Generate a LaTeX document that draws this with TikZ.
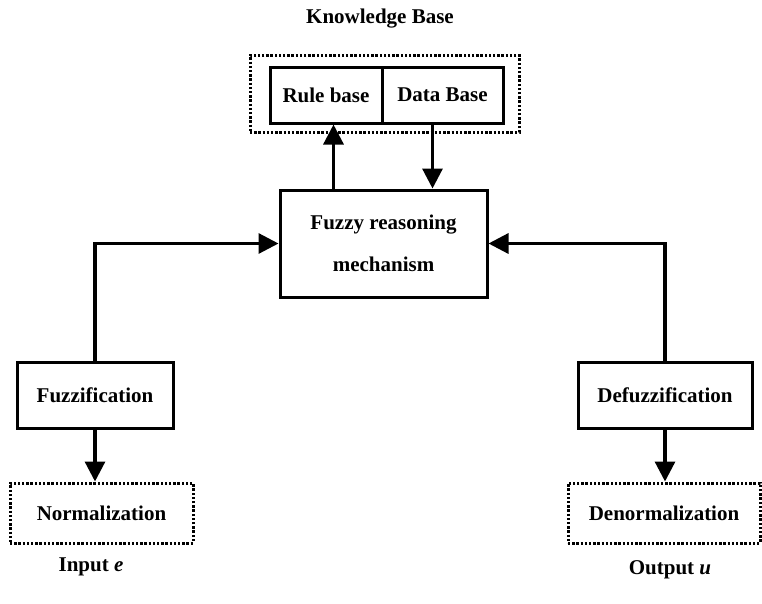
\documentclass[tikz,border=0pt]{standalone}
\usepackage{fontspec}
\setmainfont{Liberation Serif}
\usetikzlibrary{positioning, calc, arrows.meta}

\begin{document}
\begin{tikzpicture}[
      x=1pt, y=-1pt,
      font=\bfseries\fontsize{21}{42}\selectfont,
      block/.style={rectangle, draw=black, line width=3pt, inner sep=0pt, align=center},
      dotblock/.style={rectangle, draw=black, line width=3pt, dash pattern=on 2.4pt off 1.8pt, inner sep=0pt, align=center},
      flow/.style={-{Triangle[length=20pt, width=20pt]}, line width=3.2pt},
      caption/.style={inner sep=0pt}
    ]
      \useasboundingbox (0,0) rectangle (762,603);

      % Knowledge base
      \node[caption] (kbtitle) at (380,19) {Knowledge Base};
      \node[dotblock, minimum width=269pt, minimum height=77pt] (kb) at (384.5,93.5) {};
      \node[block, minimum width=112pt, minimum height=56pt] (rule) at (326,95) {Rule base};
      \node[block, minimum width=121pt, minimum height=56pt] (data) at (442.5,95) {Data Base};

      % Inference
      \node[block, minimum width=207pt, minimum height=107pt] (fuzzy) at (383.5,243.5) {Fuzzy reasoning\\mechanism};

      % Input side
      \node[block, minimum width=156pt, minimum height=66pt] (fuzzif) at (95,395) {Fuzzification};
      \node[dotblock, minimum width=183pt, minimum height=60pt] (norm) at (101.5,513) {Normalization};
      \node[caption] (input) at (91,567) {Input \textit{e}};

      % Output side
      \node[block, minimum width=174pt, minimum height=66pt] (defuzz) at (665,395) {Defuzzification};
      \node[dotblock, minimum width=192pt, minimum height=60pt] (denorm) at (664,513) {Denormalization};
      \node[caption] (output) at (670,570) {Output \textit{u}};

      % Connections
      \draw[flow] ([xshift=55pt]fuzzy.north west) -- ([xshift=55pt]fuzzy.north west |- rule.south);
      \draw[flow] ([xshift=-10pt]data.south) -- ([xshift=-10pt]data.south |- fuzzy.north);
      \draw[flow] (fuzzif.north) |- (fuzzy.west);
      \draw[flow] (defuzz.north) |- (fuzzy.east);
      \draw[flow] (fuzzif.south) -- (fuzzif.south |- norm.north);
      \draw[flow] (defuzz.south) -- (defuzz.south |- denorm.north);
    \end{tikzpicture}
\end{document}
